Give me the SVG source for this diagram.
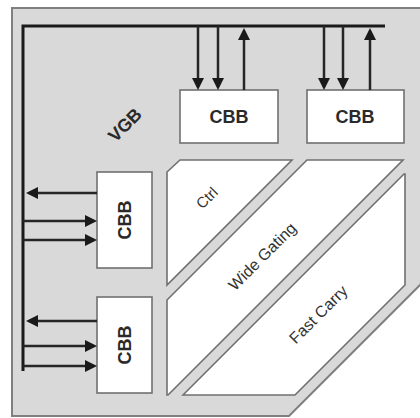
<svg xmlns="http://www.w3.org/2000/svg" width="420" height="418" viewBox="0 0 420 418">
<defs>
<style>
.bg{fill:#d9d9d9;stroke:#808080;stroke-width:2}
.blk{fill:#ffffff;stroke:#707070;stroke-width:1.6}
.bus{stroke:#1a1a1a;stroke-width:3;fill:none}
.wire{stroke:#262626;stroke-width:2.5;fill:none;marker-end:url(#ah)}
.lbl{font-family:"Liberation Sans",Arial,sans-serif;font-weight:bold;fill:#2a2a2a;text-anchor:middle}
.reg{font-family:"Liberation Sans",Arial,sans-serif;fill:#333333;text-anchor:middle}
</style>
<marker id="ah" viewBox="0 0 12 12" refX="9" refY="6" markerWidth="12" markerHeight="12" orient="auto" markerUnits="userSpaceOnUse">
<path d="M0,0 L12,6 L0,12 z" fill="#1a1a1a"/>
</marker>
</defs>
<g id="vgb">
<path class="bg" d="M12,8 H421 V284 L289,416 H12 Z"/>
<text class="lbl" font-size="18" transform="rotate(-45 125 125)" x="125" y="131">VGB</text>
</g>
<g id="ctrl">
<polygon class="blk" points="167,172 180,160 292,160 167,285"/>
<text class="reg" font-size="15" transform="rotate(-45 207 198)" x="207" y="203">Ctrl</text>
</g>
<g id="wide-gating">
<polygon class="blk" points="167,300 307,160 403,160 168,395 167,395"/>
<text class="reg" font-size="16" transform="rotate(-45 262 256)" x="262" y="262">Wide Gating</text>
</g>
<g id="fast-carry">
<polygon class="blk" points="183,395 404,174 405,174 405,285 295,395"/>
<text class="reg" font-size="16" transform="rotate(-45 318 314)" x="318" y="320">Fast Carry</text>
</g>
<g id="cbb-top1">
<rect class="blk" x="180" y="90" width="98" height="53"/>
<text class="lbl" font-size="18" x="229" y="123">CBB</text>
</g>
<g id="cbb-top2">
<rect class="blk" x="307" y="90" width="97" height="53"/>
<text class="lbl" font-size="18" x="355" y="123">CBB</text>
</g>
<g id="cbb-left1">
<rect class="blk" x="97" y="172" width="55" height="96"/>
<text class="lbl" font-size="18" transform="rotate(-90 125 220)" x="125" y="226">CBB</text>
</g>
<g id="cbb-left2">
<rect class="blk" x="97" y="297" width="55" height="96"/>
<text class="lbl" font-size="18" transform="rotate(-90 125 345)" x="125" y="351">CBB</text>
</g>
<g id="connectors">
<path class="bus" d="M23,371 V26 H385"/>
<line class="wire" x1="198" y1="26" x2="198" y2="87"/>
<line class="wire" x1="218" y1="26" x2="218" y2="87"/>
<line class="wire" x1="244" y1="90" x2="244" y2="31"/>
<line class="wire" x1="324" y1="26" x2="324" y2="87"/>
<line class="wire" x1="343" y1="26" x2="343" y2="87"/>
<line class="wire" x1="370" y1="90" x2="370" y2="31"/>
<line class="wire" x1="97" y1="193" x2="29" y2="193"/>
<line class="wire" x1="23" y1="221" x2="94" y2="221"/>
<line class="wire" x1="23" y1="240" x2="94" y2="240"/>
<line class="wire" x1="97" y1="321" x2="29" y2="321"/>
<line class="wire" x1="23" y1="346" x2="94" y2="346"/>
<line class="wire" x1="23" y1="366" x2="94" y2="366"/>
</g>
</svg>
